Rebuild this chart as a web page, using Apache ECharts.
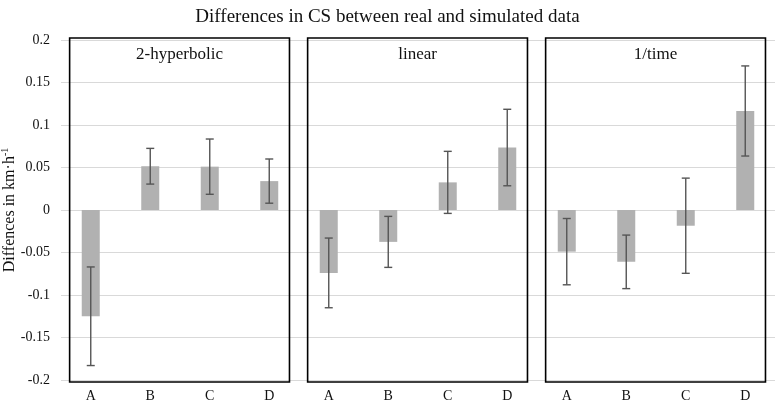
<!DOCTYPE html>
<html>
<head>
<meta charset="utf-8">
<script src="https://cdn.jsdelivr.net/npm/echarts@6/dist/echarts.min.js"></script>
<style>
  html, body { margin: 0; padding: 0; background: #fff; }
  #grafico { width: 775px; height: 403px; }
</style>
</head>
<body>
<div id="grafico"></div>
<script>
// datos
const categorias = ['A', 'B', 'C', 'D']
const paneles = ['2-hyperbolic', 'linear', '1/time']

const hiperbolicoMedia = [-0.125, 0.0515, 0.051, 0.034]
const hiperbolicoError = [0.058, 0.021, 0.0325, 0.026]
const linealMedia = [-0.074, -0.0375, 0.0325, 0.0735]
const linealError = [0.041, 0.030, 0.0365, 0.045]
const tiempoMedia = [-0.049, -0.061, -0.0185, 0.1165]
const tiempoError = [0.039, 0.0315, 0.056, 0.053]

const ticksY = [-0.2, -0.15, -0.1, -0.05, 0, 0.05, 0.1, 0.15, 0.2]

const fuente = 'Liberation Serif'

let medias = [hiperbolicoMedia, linealMedia, tiempoMedia]
let errores = [hiperbolicoError, linealError, tiempoError]

// una sola categoria por barra (12), etiquetas A-D repetidas
let claves = []
let valores = []
let barrasError = []
paneles.forEach((p, i) => {
  categorias.forEach((c, j) => {
    claves.push(c + '|' + i)
    valores.push(medias[i][j])
    barrasError.push([i * 4 + j, medias[i][j], errores[i][j]])
  })
})

let myChart = echarts.init(document.getElementById('grafico'))

let option = {
  backgroundColor: '#ffffff',
  animation: false,
  textStyle: { fontFamily: fuente },
  title: {
    text: 'Differences in CS between real and simulated data',
    left: 'center',
    top: 3,
    textStyle: { fontFamily: fuente, fontSize: 19, fontWeight: 'normal', color: '#111' }
  },
  grid: { left: 61, right: 0, top: 40, bottom: 23, outerBoundsMode: 'none' },
  xAxis: {
    type: 'category',
    data: claves,
    axisLine: { show: false },
    axisTick: { show: false },
    axisLabel: {
      formatter: v => v.split('|')[0],
      fontFamily: fuente,
      fontSize: 14,
      color: '#111',
      margin: 9
    }
  },
  yAxis: {
    type: 'value',
    min: ticksY[0],
    max: ticksY[ticksY.length - 1],
    interval: 0.05,
    axisLine: { show: false },
    axisTick: { show: false },
    axisLabel: {
      fontFamily: fuente,
      fontSize: 14,
      color: '#111',
      margin: 11,
      formatter: v => String(Math.round(v * 100) / 100)
    },
    splitLine: { lineStyle: { color: '#d9d9d9', width: 1 } },
    name: '{n|Diffences in km·h}{s|-1}',
    nameLocation: 'middle',
    nameGap: 43,
    nameRotate: 90,
    nameMoveOverlap: false,
    nameTextStyle: {
      rich: {
        n: { fontFamily: fuente, fontSize: 16, color: '#111', lineHeight: 18, verticalAlign: 'bottom' },
        s: { fontFamily: fuente, fontSize: 10, color: '#111', lineHeight: 18, verticalAlign: 'top' }
      }
    }
  },
  series: [
    {
      // recuadros de cada panel
      name: 'Paneles',
      type: 'custom',
      z: 1,
      silent: true,
      data: paneles.map((p, i) => [i]),
      renderItem: (params, api) => {
        let i = api.value(0)
        let banda = api.size([1, 0])[0]
        let izq = api.coord([i * 4, 0.2])
        let der = api.coord([i * 4 + 3, -0.2])
        let x0 = izq[0] - banda * 0.355
        let x1 = der[0] + banda * 0.34
        let y0 = izq[1] - 2
        let y1 = der[1] + 2
        return {
          type: 'group',
          children: [
            {
              type: 'rect',
              shape: { x: x0, y: y0, width: x1 - x0, height: y1 - y0 },
              style: { fill: null, stroke: '#000', lineWidth: 1.6 }
            },
            {
              type: 'text',
              x: (x0 + x1) / 2,
              y: y0 + 17,
              style: {
                text: paneles[i],
                fontFamily: fuente,
                fontSize: 17,
                fill: '#111',
                align: 'center',
                verticalAlign: 'middle'
              }
            }
          ]
        }
      }
    },
    {
      name: 'Diferencia',
      type: 'bar',
      data: valores,
      barWidth: 18,
      z: 2,
      itemStyle: { color: '#b1b1b1' }
    },
    {
      name: 'Error',
      type: 'custom',
      z: 3,
      data: barrasError,
      renderItem: (params, api) => {
        let x = api.value(0)
        let m = api.value(1)
        let e = api.value(2)
        let arriba = api.coord([x, m + e])
        let abajo = api.coord([x, m - e])
        let c = 4
        let estilo = { stroke: '#555', lineWidth: 1.4 }
        return {
          type: 'group',
          children: [
            { type: 'line', shape: { x1: arriba[0], y1: arriba[1], x2: abajo[0], y2: abajo[1] }, style: estilo },
            { type: 'line', shape: { x1: arriba[0] - c, y1: arriba[1], x2: arriba[0] + c, y2: arriba[1] }, style: estilo },
            { type: 'line', shape: { x1: abajo[0] - c, y1: abajo[1], x2: abajo[0] + c, y2: abajo[1] }, style: estilo }
          ]
        }
      }
    }
  ]
}

myChart.setOption(option)
</script>
</body>
</html>
